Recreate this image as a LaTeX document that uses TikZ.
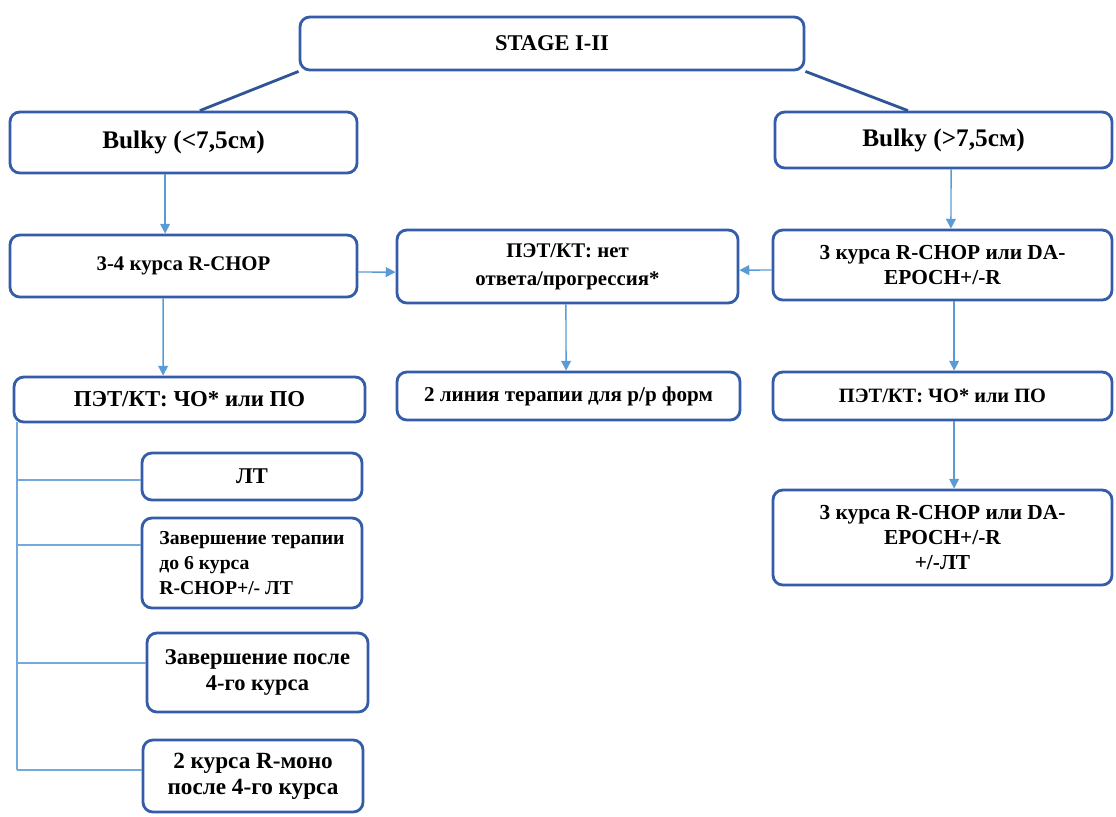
\documentclass[tikz,border=0pt]{standalone}
\usepackage{fontspec}
\setmainfont{Liberation Serif}
\usetikzlibrary{arrows.meta}
\definecolor{boxblue}{RGB}{52,92,168}
\definecolor{arrblue}{RGB}{91,155,213}
\definecolor{linkblue}{RGB}{47,85,151}
\begin{document}
\begin{tikzpicture}[x=0.25mm, y=-0.25mm,
    box/.style={draw=boxblue, line width=2pt, rounded corners=7pt, fill=white, align=center, inner sep=2pt},
    sz/.style 2 args={font=\bfseries\fontsize{#1}{#2}\selectfont},
    arr/.style={arrblue, line width=1pt, -{Triangle[length=7pt,width=7pt]}},
    link/.style={linkblue, line width=2pt},
    tree/.style={arrblue!85, line width=1pt}]
    \useasboundingbox (0,0) rectangle (1116,816);
    % top and first level
    \node[box, sz={16}{19}, minimum width=126mm, minimum height=13.25mm] (stage) at (552,43.5) {STAGE I-II};
    \node[box, sz={18}{21}, minimum width=86.75mm, minimum height=15.25mm] (bulkyL) at (183.5,142.5) {Bulky (<7,5см)};
    \node[box, sz={18}{21}, minimum width=84.25mm, minimum height=14mm] (bulkyR) at (943.5,140) {Bulky (>7,5см)};
    \draw[link] (stage.south west) -- ([xshift=4.1mm]bulkyL.north);
    \draw[link] (stage.south east) -- ([xshift=-8.9mm]bulkyR.north);
    % second level
    \node[box, sz={14.8}{18}, minimum width=86.75mm, minimum height=15.5mm] (rchopL) at (183.5,266) {3-4 курса R-CHOP};
    \node[box, sz={14.8}{20}, minimum width=85.25mm, minimum height=18.25mm] (nores) at (567.5,266.5) {ПЭТ/КТ: нет\\ ответа/прогрессия*};
    \node[box, sz={15.2}{18}, minimum width=84.75mm, minimum height=17.5mm] (rchopR) at (942.5,265) {3 курса R-CHOP или DA-\\ EPOCH+/-R};
    \draw[arr] ([xshift=-4.6mm]bulkyL.south) -- ([xshift=-4.6mm]rchopL.north);
    \draw[arr] ([xshift=1.9mm]bulkyR.south) -- ([xshift=2.1mm]rchopR.north);
    \draw[arr] ([yshift=-1.5mm]rchopL.east) -- ([yshift=-1.4mm]nores.west);
    \draw[arr] ([yshift=-1.25mm]rchopR.west) -- ([yshift=-0.9mm]nores.east);
    % third level
    \node[box, sz={16.2}{19}, minimum width=87.75mm, minimum height=11.25mm] (petL) at (189.5,399.5) {ПЭТ/КТ: ЧО* или ПО};
    \node[box, sz={15}{18}, minimum width=85.75mm, minimum height=12mm] (second) at (568.5,396) {2 линия терапии для р/р форм};
    \node[box, sz={14.5}{18}, minimum width=84.75mm, minimum height=12mm] (petR) at (942.5,396) {ПЭТ/КТ: ЧО* или ПО};
    \node[box, sz={15.2}{17.5}, minimum width=84.75mm, minimum height=23.75mm] (finalR) at (942.5,537.5) {3 курса R-CHOP или DA-\\ EPOCH+/-R\\ +/-ЛТ};
    \draw[arr] ([xshift=-5.1mm]rchopL.south) -- ([xshift=-6.6mm]petL.north);
    \draw[arr] ([xshift=-0.4mm]nores.south) -- ([xshift=-0.6mm]second.north);
    \draw[arr] ([xshift=2.9mm]rchopR.south) -- ([xshift=2.9mm]petR.north);
    \draw[arr] ([xshift=2.9mm]petR.south) -- ([xshift=2.9mm]finalR.north);
    % left options
    \node[box, sz={16}{19}, minimum width=55mm, minimum height=11.75mm] (lt) at (252,476.5) {ЛТ};
    \node[box, sz={14}{17.5}, minimum width=55mm, minimum height=22.5mm, align=left] (end6) at (252,563) {Завершение терапии\\ до 6 курса\\ R-CHOP+/- ЛТ};
    \node[box, sz={16}{18.5}, minimum width=55.25mm, minimum height=19.75mm] (end4) at (257.5,672.5) {Завершение после\\ 4-го курса};
    \node[box, sz={16.5}{18.5}, minimum width=55mm, minimum height=18mm] (mono) at (253,776) {2 курса R-моно\\ после 4-го курса};
    \coordinate (trunk) at (17,422);
    \draw[tree] (trunk) -- ([yshift=1.5mm]mono.west -| trunk);
    \foreach \n/\s in {lt/-0.9mm, end6/4.5mm, end4/2.4mm, mono/1.5mm}
        \draw[tree] ([yshift=\s]\n.west) -- ([yshift=\s]\n.west -| trunk);
\end{tikzpicture}
\end{document}
